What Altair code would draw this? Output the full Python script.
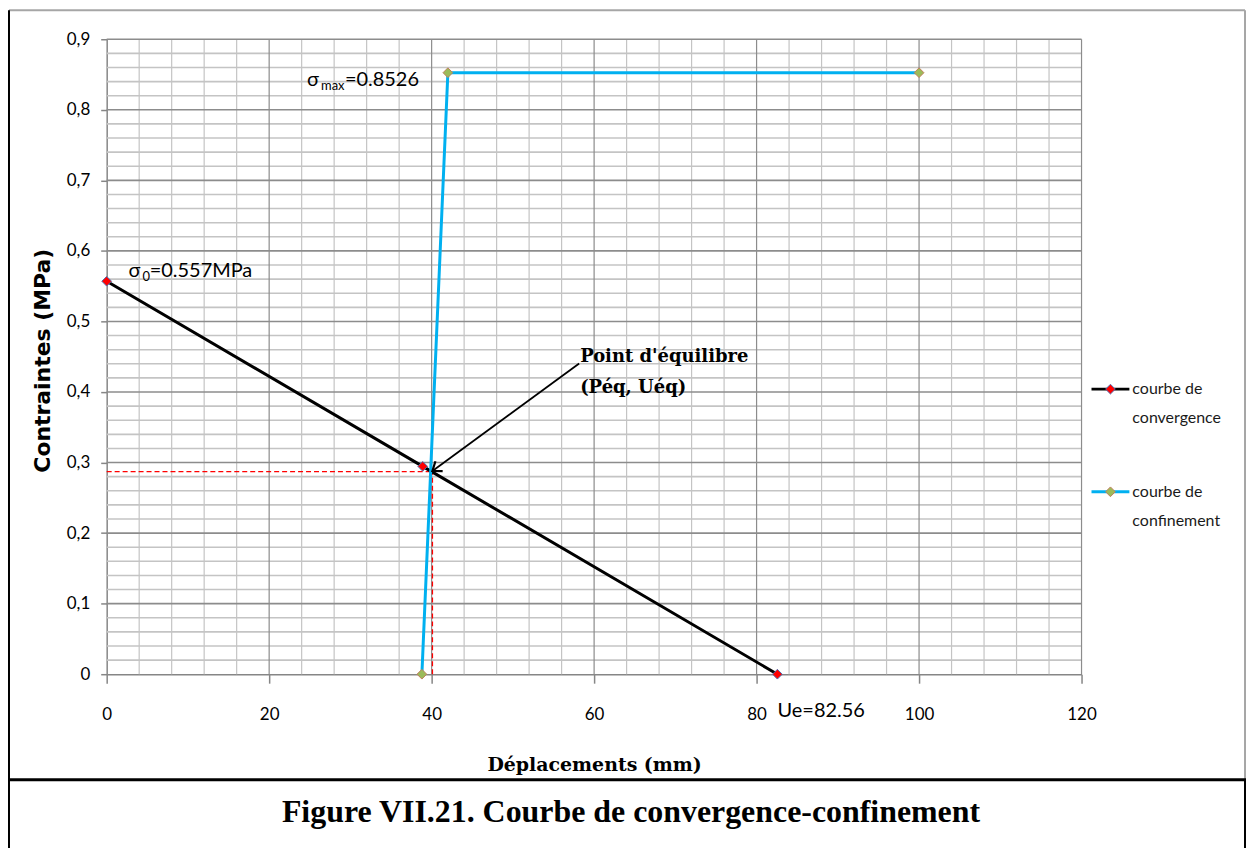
import altair as alt
import pandas as pd

# ---------------- data ----------------
series_names = ["courbe de convergence", "courbe de confinement"]
legend_line1 = ["courbe de", "courbe de"]
legend_line2 = ["convergence", "confinement"]
line_colors = ["#000000", "#00b0f0"]
marker_fill = ["#ff0000", "#9bbb59"]
marker_edge = ["#4f6fb0", "#c0805a"]

conv_x = [0, 38.9, 82.56]
conv_y = [0.557, 0.2946, 0]
conf_x = [38.8, 42.0, 100]
conf_y = [0, 0.8526, 0.8526]

eq_x = [40.1]
eq_y = [0.287]

arrow_from = [58.16, 0.4404]
arrow_to = [40.1, 0.288]

x_ticks = [0, 20, 40, 60, 80, 100, 120]
y_ticks = [0, 0.1, 0.2, 0.3, 0.4, 0.5, 0.6, 0.7, 0.8, 0.9]
x_minor = [v for v in range(0, 121, 4) if v % 20]
y_minor = [round(i * 0.02, 2) for i in range(46) if i % 5]

# annotation texts (data coordinates)
ann_text = ["σ", "=0.557MPa", "σ", "=0.8526", "Ue=82.56"]
ann_x = [2.7, 5.3, 24.66, 29.33, 82.58]
ann_y = [0.5637, 0.5637, 0.8336, 0.8336, -0.0608]
sub_text = ["0", "max"]
sub_x = [4.42, 26.38]
sub_y = [0.558, 0.8279]
eq_text = ["Point d'équilibre", "(Péq, Uéq)"]
eq_tx = [58.28, 58.28]
eq_ty = [0.4422, 0.3984]

caption = "Figure VII.21. Courbe de convergence-confinement"

# ---------------- helpers ----------------
xs = alt.Scale(domain=[0, 120], nice=False, zero=False)
ys = alt.Scale(domain=[0, 0.9], nice=False, zero=False)

x_axis = alt.Axis(
    values=x_ticks, title="Déplacements (mm)", grid=False, labelFlush=False,
    domainColor="#868686", domainWidth=1.5, tickColor="#868686", tickWidth=1.5,
    tickSize=9, labelFont="Lato", labelFontSize=17, labelColor="#000000",
    labelPadding=23, titleFont="DejaVu Serif", titleFontWeight="bold",
    titleFontSize=19, titleColor="#000000", titleX=489, titleY=91,
    titleBaseline="middle", titleAlign="center",
)
y_axis = alt.Axis(
    values=y_ticks, title="Contraintes (MPa)", grid=False, format=".1~f",
    labelExpr="replace(datum.label, '.', ',')", labelFlush=False,
    domainColor="#868686", domainWidth=1.5, tickColor="#868686", tickWidth=1.5,
    tickSize=6, labelFont="Lato", labelFontSize=17, labelColor="#000000",
    labelPadding=11, titleFont="DejaVu Sans", titleFontWeight="bold",
    titleFontSize=22, titleColor="#000000", titleX=-64, titleY=322,
    titleAngle=270, titleBaseline="middle", titleAlign="center",
)


def X(field="x"):
    return alt.X(field, type="quantitative", scale=xs, axis=x_axis)


def Y(field="y"):
    return alt.Y(field, type="quantitative", scale=ys, axis=y_axis)


# ---------------- grid ----------------
gx_minor = alt.Chart(pd.DataFrame({"x": x_minor})).mark_rule(
    color="#c4c4c4", strokeWidth=1.2).encode(x=X())
gy_minor = alt.Chart(pd.DataFrame({"y": y_minor})).mark_rule(
    color="#c4c4c4", strokeWidth=1.6).encode(y=Y())
gx_major = alt.Chart(pd.DataFrame({"x": x_ticks[1:]})).mark_rule(
    color="#8c8c8c", strokeWidth=1.2).encode(x=X())
gy_major = alt.Chart(pd.DataFrame({"y": y_ticks[1:]})).mark_rule(
    color="#8c8c8c", strokeWidth=1.6).encode(y=Y())

# ---------------- series ----------------
df_lines = pd.DataFrame({
    "series": [series_names[0]] * len(conv_x) + [series_names[1]] * len(conf_x),
    "x": conv_x + conf_x,
    "y": conv_y + conf_y,
    "o": list(range(len(conv_x))) + list(range(len(conf_x))),
})
color_scale = alt.Scale(domain=series_names, range=line_colors)
fill_scale = alt.Scale(domain=series_names, range=marker_fill)
edge_scale = alt.Scale(domain=series_names, range=marker_edge)

lines = alt.Chart(df_lines).mark_line(strokeWidth=3).encode(
    x=X(), y=Y(), order="o:Q",
    color=alt.Color("series:N", scale=color_scale, legend=None),
)
points = alt.Chart(df_lines).mark_point(
    shape="diamond", filled=True, size=95, strokeWidth=1, opacity=1).encode(
    x=X(), y=Y(),
    fill=alt.Fill("series:N", scale=fill_scale, legend=None),
    stroke=alt.Stroke("series:N", scale=edge_scale, legend=None),
)

# dashed red guides to the equilibrium point
df_eq = pd.DataFrame({"x": eq_x, "y": eq_y, "x0": [0], "y0": [0]})
dash_h = alt.Chart(df_eq).mark_rule(color="#ff0000", strokeWidth=1.3, strokeDash=[5, 3]).encode(
    x=X("x0"), x2="x", y=Y())
dash_v = alt.Chart(df_eq).mark_rule(color="#ff0000", strokeWidth=1.3, strokeDash=[5, 3]).encode(
    x=X(), y=Y("y0"), y2="y")

# arrow
df_arrow = pd.DataFrame({"x": [arrow_from[0]], "y": [arrow_from[1]],
                         "x2": [arrow_to[0]], "y2": [arrow_to[1]]})
arrow_line = alt.Chart(df_arrow).mark_rule(color="#000000", strokeWidth=1.8).encode(
    x=X(), y=Y(), x2="x2", y2="y2")
arrow_head = alt.Chart(df_arrow).mark_point(
    shape="M -0.6 0.8 L 0 0 L 0.6 0.8", filled=False, size=420, strokeWidth=2.2,
    color="#000000", opacity=1, angle=233.8).encode(x=X("x2"), y=Y("y2"))

# annotation texts
ann = alt.Chart(pd.DataFrame({"t": ann_text, "x": ann_x, "y": ann_y})).mark_text(
    font="Lato", fontSize=20, align="left", baseline="alphabetic", color="#000000").encode(
    x=X(), y=Y(), text="t:N")
sub = alt.Chart(pd.DataFrame({"t": sub_text, "x": sub_x, "y": sub_y})).mark_text(
    font="Lato", fontSize=13, align="left", baseline="alphabetic", color="#000000").encode(
    x=X(), y=Y(), text="t:N")
eq_lbl = alt.Chart(pd.DataFrame({"t": eq_text, "x": eq_tx, "y": eq_ty})).mark_text(
    font="DejaVu Serif", fontWeight="bold", fontSize=18, align="left",
    baseline="alphabetic", color="#000000").encode(x=X(), y=Y(), text="t:N")

# ---------------- custom legend ----------------
legend_layers = []
for i, name in enumerate(series_names):
    ly = 351 + i * 103
    legend_layers.append(alt.Chart().mark_rule(color=line_colors[i], strokeWidth=3).encode(
        x=alt.value(988), x2=alt.value(1026), y=alt.value(ly)))
    legend_layers.append(alt.Chart().mark_point(
        shape="diamond", filled=True, size=95, strokeWidth=1, opacity=1,
        fill=marker_fill[i], stroke=marker_edge[i]).encode(
        x=alt.value(1007), y=alt.value(ly)))
    legend_layers.append(alt.Chart().mark_text(
        text=legend_line1[i], font="Lato", fontSize=16, align="left",
        baseline="middle", color="#1a1a1a").encode(x=alt.value(1029), y=alt.value(ly)))
    legend_layers.append(alt.Chart().mark_text(
        text=legend_line2[i], font="Lato", fontSize=16, align="left",
        baseline="middle", color="#1a1a1a").encode(x=alt.value(1029), y=alt.value(ly + 29)))

# ---------------- frame and caption ----------------
frame = [
    alt.Chart().mark_rule(color="#a6a6a6", strokeWidth=2).encode(
        x=alt.value(-98), x2=alt.value(1142), y=alt.value(-29)),
    alt.Chart().mark_rule(color="#000000", strokeWidth=2).encode(
        x=alt.value(-98), y=alt.value(-29), y2=alt.value(812)),
    alt.Chart().mark_rule(color="#a6a6a6", strokeWidth=2).encode(
        x=alt.value(1142), y=alt.value(-29), y2=alt.value(743)),
    alt.Chart().mark_rule(color="#000000", strokeWidth=2).encode(
        x=alt.value(1142), y=alt.value(743), y2=alt.value(812)),
    alt.Chart().mark_rule(color="#000000", strokeWidth=3).encode(
        x=alt.value(-98), x2=alt.value(1143), y=alt.value(743)),
]
cap = alt.Chart().mark_text(
    text=caption, font="Liberation Serif", fontWeight="bold", fontSize=32,
    align="center", baseline="alphabetic", color="#000000").encode(
    x=alt.value(526), y=alt.value(785))

chart = alt.layer(
    gx_minor, gy_minor, gx_major, gy_major,
    dash_h, dash_v, lines, points, arrow_line, arrow_head,
    ann, sub, eq_lbl, *legend_layers, *frame, cap,
).properties(
    width=978, height=637,
    padding={"left": 99, "top": 30, "right": 167, "bottom": 173},
    autosize=alt.AutoSizeParams(type="none"),
).configure_view(strokeOpacity=0)

chart.save("out.html", embed_options={"renderer": "svg", "actions": False})
